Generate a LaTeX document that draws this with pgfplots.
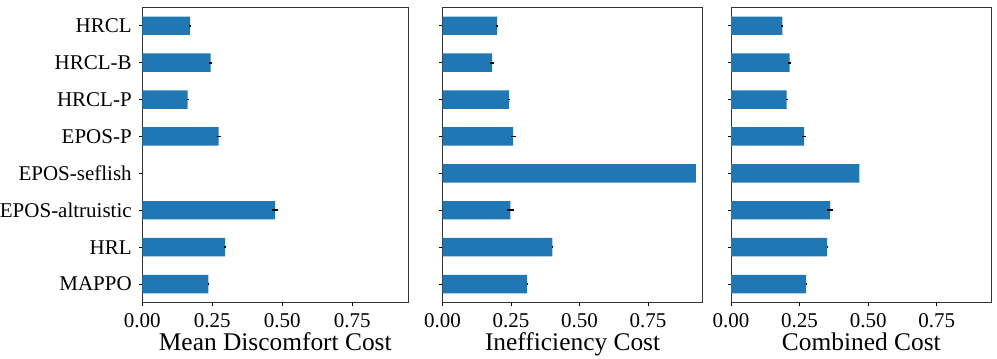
\documentclass[border=0pt]{standalone}
\usepackage{fontspec}
\setmainfont{Liberation Serif}
\usepackage{pgfplots}
\usepackage{pgfplotstable}
\pgfplotsset{compat=1.18}

\definecolor{mplblue}{HTML}{1F77B4}

% rank (7 = top), value, std error
\pgfplotstableread{
y x e
7 0.171 0.003
6 0.244 0.006
5 0.162 0.003
4 0.273 0.008
3 0.000 0.000
2 0.474 0.012
1 0.296 0.003
0 0.236 0.003
}\discomfort
\pgfplotstableread{
y x e
7 0.199 0.003
6 0.181 0.006
5 0.243 0.003
4 0.258 0.009
3 0.925 0.000
2 0.248 0.012
1 0.401 0.002
0 0.309 0.002
}\inefficiency
\pgfplotstableread{
y x e
7 0.187 0.003
6 0.214 0.005
5 0.203 0.003
4 0.266 0.008
3 0.468 0.000
2 0.361 0.012
1 0.350 0.002
0 0.274 0.002
}\combined

\pgfplotsset{
    cost panel/.style={
            scale only axis,
            anchor=south west,
            height=147.6pt,
            xmin=0, xmax=0.95,
            ymin=-0.5, ymax=7.5,
            xtick={0,0.25,0.5,0.75},
            xticklabels={0.00,0.25,0.50,0.75},
            ytick={0,...,7},
            xtick pos=bottom, ytick pos=left,
            tick align=outside,
            major tick length=1.75pt,
            tick style={black, line width=0.4pt},
            axis line style={black!80, line width=0.4pt},
            every tick label/.append style={font=\fontsize{10.5}{12}\selectfont},
            /pgf/number format/assume math mode=true,
            label style={font=\fontsize{12.7}{14}\selectfont},
            xlabel style={yshift=4pt},
            xbar, bar width=0.5,
        },
    cost bars/.style={
            fill=mplblue, draw=none,
            error bars/.cd, x dir=both, x explicit,
            error mark=none,
            error bar style={black, line width=0.9pt},
        },
}

\begin{document}
\begin{tikzpicture}
    \useasboundingbox (0,0) rectangle (498.5pt,179.5pt);
    \begin{axis}[cost panel, at={(71.15pt,28.25pt)}, width=133pt,
            xlabel={Mean Discomfort Cost},
            yticklabels={MAPPO,HRL,EPOS-altruistic,EPOS-seflish,EPOS-P,HRCL-P,HRCL-B,HRCL}]
        \addplot[cost bars] table[x=x, y=y, x error=e] {\discomfort};
    \end{axis}
    \begin{axis}[cost panel, at={(221.25pt,28.25pt)}, width=130.1pt,
            xlabel={Inefficiency Cost}, yticklabels={}]
        \addplot[cost bars] table[x=x, y=y, x error=e] {\inefficiency};
    \end{axis}
    \begin{axis}[cost panel, at={(365.5pt,28.25pt)}, width=130.35pt,
            xlabel={Combined Cost}, yticklabels={}]
        \addplot[cost bars] table[x=x, y=y, x error=e] {\combined};
    \end{axis}
\end{tikzpicture}
\end{document}
